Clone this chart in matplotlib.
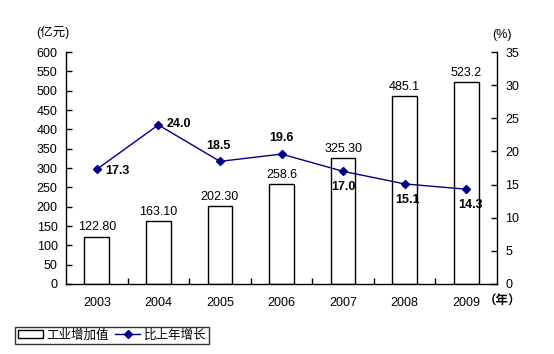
import matplotlib
matplotlib.use("Agg")
import matplotlib.pyplot as plt
from matplotlib.patches import Rectangle
from matplotlib.lines import Line2D

plt.rcParams['font.family'] = ['Liberation Sans', 'Noto Sans CJK SC', 'DejaVu Sans']

years = ["2003", "2004", "2005", "2006", "2007", "2008", "2009"]
values = [122.80, 163.10, 202.30, 258.6, 325.30, 485.1, 523.2]
value_labels = ["122.80", "163.10", "202.30", "258.6", "325.30", "485.1", "523.2"]
growth = [17.3, 24.0, 18.5, 19.6, 17.0, 15.1, 14.3]
growth_labels = ["17.3", "24.0", "18.5", "19.6", "17.0", "15.1", "14.3"]

FS = 9

fig = plt.figure(figsize=(5.54, 3.54), dpi=100)
ax = fig.add_axes([66/554, 1-284/354, (497-66)/554, (284-52)/354])
ax2 = ax.twinx()

x = list(range(len(years)))
ax.bar(x, values, width=0.4, facecolor='white', edgecolor='black', linewidth=1.0, zorder=2)
ax.set_xlim(-0.5, len(years)-0.5)
ax.set_ylim(0, 600)
ax.set_yticks(range(0, 601, 50))
ax.set_xticks(x)
ax.set_xticklabels(years, fontsize=FS)
ax.set_xticks([i + 0.5 for i in range(len(years)-1)], minor=True)
ax.tick_params(axis='x', which='major', length=0, pad=9)
ax.tick_params(axis='x', which='minor', direction='in', length=4, width=1)
ax.tick_params(axis='y', direction='in', length=4, width=1, labelsize=FS, pad=6)
for s in ['top', 'right']:
    ax.spines[s].set_visible(False)
ax.spines['left'].set_linewidth(1)
ax.spines['bottom'].set_linewidth(1)

for xi, v, lab in zip(x, values, value_labels):
    ax.text(xi, v + 8, lab, ha='center', va='bottom', fontsize=FS, zorder=5)

ax2.plot(x, growth, color='#000080', linewidth=1, marker='D', markersize=4, zorder=3)
ax2.set_ylim(0, 35)
ax2.set_yticks(range(0, 36, 5))
ax2.tick_params(axis='y', direction='in', length=4, width=1, labelsize=FS, pad=6)
for s in ['top', 'left', 'bottom']:
    ax2.spines[s].set_visible(False)
ax2.spines['right'].set_linewidth(1)

offsets = [(6, -1, 'left', 'center'), (6, 1, 'left', 'center'), (-1, 7, 'center', 'bottom'),
           (0, 7, 'center', 'bottom'), (0, -7, 'center', 'top'), (2, -7, 'center', 'top'),
           (3, -7, 'center', 'top')]
for xi, g, lab, (dx, dy, ha, va) in zip(x, growth, growth_labels, offsets):
    ax2.annotate(lab, (xi, g), xytext=(dx, dy), textcoords='offset points',
                 ha=ha, va=va, fontsize=FS, fontweight='bold', zorder=6)

fig.text(36/554, 1-32/354, "(亿元)", fontsize=FS, ha='left', va='center')
fig.text(492/554, 1-35/354, "(%)", fontsize=FS, ha='left', va='center')
fig.text(484/554, 1-302/354, "（年）", fontsize=FS, ha='left', va='center', fontweight='bold')

bar_handle = Rectangle((0, 0), 1, 1, facecolor='white', edgecolor='black', linewidth=1)
line_handle = Line2D([], [], color='#000080', marker='D', markersize=4, linewidth=1)
leg = fig.legend([bar_handle, line_handle], ["工业增加值", "比上年增长"],
                 loc='lower left', bbox_to_anchor=(15/554, 1-344/354), ncol=2,
                 fontsize=FS, frameon=True, fancybox=False, edgecolor='black',
                 handlelength=2.0, handleheight=0.6, columnspacing=0.5, handletextpad=0.3,
                 borderpad=0.2, borderaxespad=0)
leg.get_frame().set_linewidth(1)

fig.savefig("out.png", dpi=100)
